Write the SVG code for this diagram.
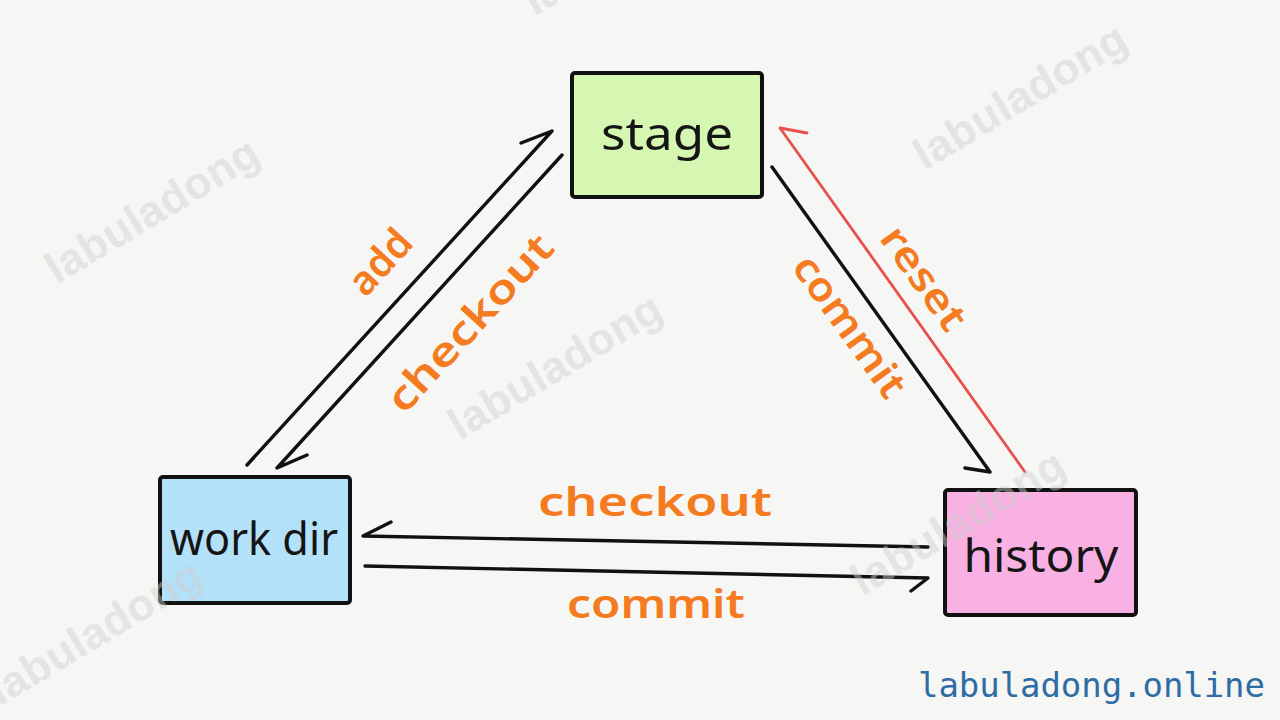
<svg xmlns="http://www.w3.org/2000/svg" width="1280" height="720" viewBox="0 0 1280 720">
<style>
.box{stroke:#111;stroke-width:4;stroke-linejoin:round}
.name{font-family:"Noto Sans","Open Sans",sans-serif;font-size:46px;fill:#151515;text-anchor:middle}
.lbl{font-family:"Noto Sans","Open Sans",sans-serif;font-weight:600;font-size:40px;fill:#f47b20;text-anchor:middle}
.arr{fill:none;stroke:#111;stroke-width:3.4;stroke-linecap:round;stroke-linejoin:round}
.red{fill:none;stroke:#e8504f;stroke-width:2.8;stroke-linecap:round;stroke-linejoin:round}
.wm{font-family:"Liberation Sans","Noto Sans",sans-serif;font-weight:bold;font-size:44px;fill:#cfcfcf;opacity:0.45;text-anchor:middle}
.site{font-family:"DejaVu Sans Mono","Liberation Mono",monospace;font-size:34px;fill:#2e6da4}
</style>
<rect x="0" y="0" width="1280" height="720" fill="#f6f6f4"/>

<g id="stage">
<rect class="box" x="572" y="73" width="190" height="124" rx="3" fill="#d5f7b2"/>
<text class="name" x="667" y="150" textLength="132" lengthAdjust="spacingAndGlyphs">stage</text>
</g>
<g id="workdir">
<rect class="box" x="160" y="477" width="190" height="126" rx="3" fill="#b3e1fa"/>
<text class="name" x="254" y="555" textLength="168" lengthAdjust="spacingAndGlyphs">work dir</text>
</g>
<g id="history">
<rect class="box" x="945" y="490" width="191" height="125" rx="3" fill="#f9b1e3"/>
<text class="name" x="1041" y="572" textLength="155" lengthAdjust="spacingAndGlyphs">history</text>
</g>

<g id="connectors">
<path class="arr" d="M247,465 L552,131 L521,143"/>
<path class="arr" d="M562,155 L277,468 L307,455"/>
<path class="arr" d="M772,167 L990,472 L965,468"/>
<path class="red" d="M1025,472 L780,128 L807,133"/>
<path class="arr" d="M928,547 L363,536 L391,522"/>
<path class="arr" d="M365,566 L928,578 L911,591"/>
</g>

<g id="labels">
<text class="lbl" transform="translate(380,262) rotate(-47.5)" x="0" y="14">add</text>
<text class="lbl" transform="translate(470,323) rotate(-47.5)" x="0" y="14" textLength="225" lengthAdjust="spacingAndGlyphs">checkout</text>
<text class="lbl" transform="translate(924,278) rotate(54.5)" x="0" y="14" textLength="118" lengthAdjust="spacingAndGlyphs">reset</text>
<text class="lbl" transform="translate(850,326) rotate(54.5)" x="0" y="14" textLength="165" lengthAdjust="spacingAndGlyphs">commit</text>
<text class="lbl" x="655" y="516" textLength="234" lengthAdjust="spacingAndGlyphs">checkout</text>
<text class="lbl" x="656" y="618" textLength="178" lengthAdjust="spacingAndGlyphs">commit</text>
</g>

<g id="watermarks">
<text class="wm" transform="translate(152,210) rotate(-31)" x="0" y="15" textLength="240">labuladong</text>
<text class="wm" transform="translate(1020,96) rotate(-31)" x="0" y="15" textLength="240">labuladong</text>
<text class="wm" transform="translate(555,366) rotate(-31)" x="0" y="15" textLength="240">labuladong</text>
<text class="wm" transform="translate(958,522) rotate(-31)" x="0" y="15" textLength="240">labuladong</text>
<text class="wm" transform="translate(95,632) rotate(-31)" x="0" y="15" textLength="240">labuladong</text>
<text class="wm" transform="translate(630,-58) rotate(-31)" x="0" y="15" textLength="240">labuladong</text>
</g>

<text class="site" x="918" y="697" textLength="347">labuladong.online</text>
</svg>
